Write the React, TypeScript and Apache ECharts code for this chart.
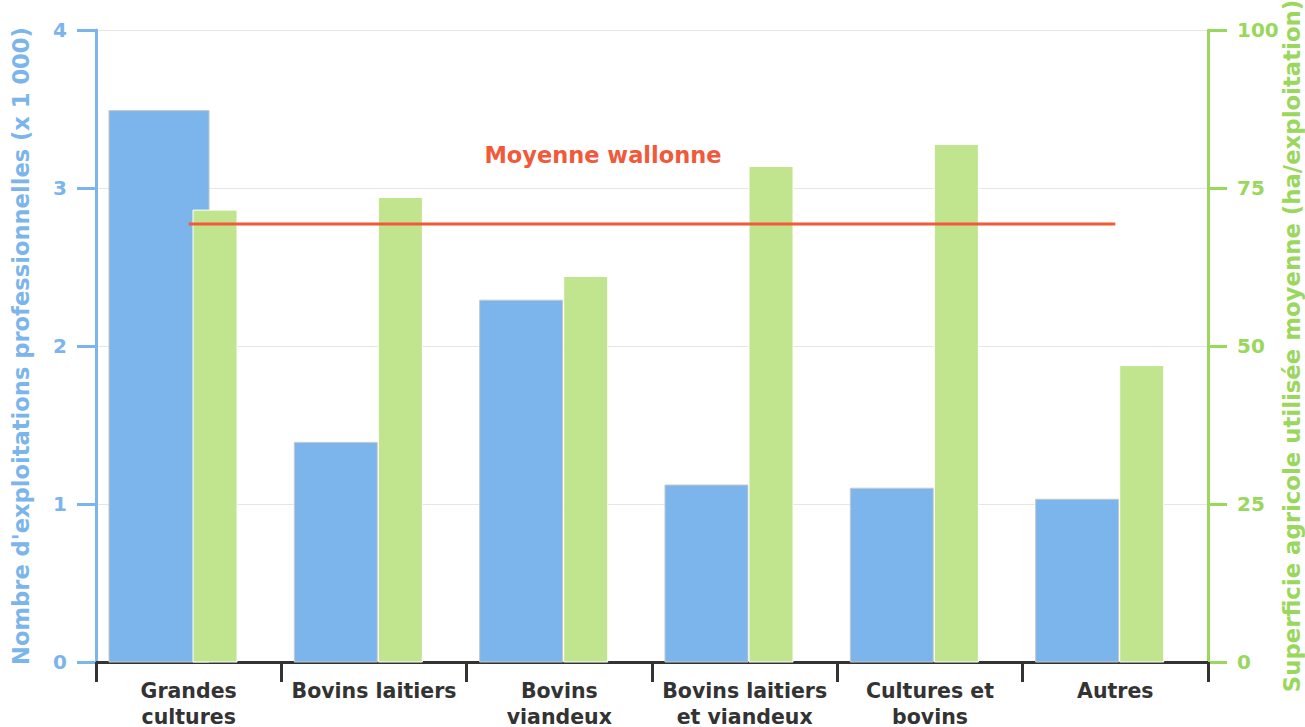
import React, { useEffect, useRef } from "react";
import * as echarts from "echarts";

const categories = [
  "Grandes\ncultures",
  "Bovins laitiers",
  "Bovins\nviandeux",
  "Bovins laitiers\net viandeux",
  "Cultures et\nbovins",
  "Autres",
];
// Nombre d'exploitations professionnelles (x 1 000)
const exploitations = [3.49, 1.39, 2.29, 1.12, 1.1, 1.03];
// Superficie agricole utilisée moyenne (ha/exploitation)
const superficie = [71.5, 73.5, 61.0, 78.4, 81.9, 46.9];
// Moyenne wallonne (ha/exploitation)
const moyenneWallonne = 69.3;
const moyenneLabel = "Moyenne wallonne";

const leftName = "Nombre d'exploitations professionnelles (x 1 000)";
const rightName = "Superficie agricole utilisée moyenne (ha/exploitation)";

const BLUE = "#7cb5ec";
const GREEN_BAR = "#c1e58e";
const GREEN_AXIS = "#9ad75d";
const RED = "#f2593a";
const FONT = "DejaVu Sans";

export default function App() {
  const ref = useRef<HTMLDivElement>(null);

  useEffect(() => {
    if (!ref.current) return;
    const chart = echarts.init(ref.current, undefined, { renderer: "svg" });

    const blueRender = (params: any, api: any) => {
      const i = api.value(0);
      const v = api.value(1);
      const band = api.size([1, 0])[0];
      const top = api.coord([i, v]);
      const base = api.coord([i, 0]);
      const left = top[0] - band / 2 + band * 0.07;
      const w = band * (i === 0 ? 0.54 : 0.448);
      return {
        type: "rect",
        shape: { x: left, y: top[1], width: w, height: base[1] - top[1] },
        style: { fill: BLUE, stroke: "#c8c8c8", lineWidth: 1 },
      };
    };

    const greenRender = (params: any, api: any) => {
      const i = api.value(0);
      const v = api.value(1);
      const band = api.size([1, 0])[0];
      const top = api.coord([i, v]);
      const base = api.coord([i, 0]);
      const left = top[0] - band / 2 + band * 0.5235;
      const w = band * 0.2375;
      return {
        type: "rect",
        shape: { x: left, y: top[1], width: w, height: base[1] - top[1] },
        style: { fill: GREEN_BAR, stroke: "#ffffff", lineWidth: 1 },
      };
    };

    const option: any = {
      animation: false,
      backgroundColor: "#ffffff",
      textStyle: { fontFamily: FONT },
      grid: {
        left: 96,
        right: 97,
        top: 30,
        bottom: 65,
        containLabel: false,
        outerBoundsMode: "none",
      },
      xAxis: {
        type: "category",
        data: categories,
        axisLine: { show: true, lineStyle: { color: "#333333", width: 3 } },
        axisTick: { show: true, length: 20, lineStyle: { color: "#333333", width: 3 } },
        axisLabel: {
          interval: 0,
          color: "#333333",
          fontWeight: "bold",
          fontFamily: FONT,
          fontSize: 20.5,
          lineHeight: 26,
          margin: 16,
        },
        splitLine: { show: false },
      },
      yAxis: [
        {
          type: "value",
          position: "left",
          min: 0,
          max: 4,
          interval: 1,
          name: leftName,
          nameLocation: "middle",
          nameGap: 64,
          nameTextStyle: { color: BLUE, fontWeight: "bold", fontFamily: FONT, fontSize: 22.6 },
          axisLine: { show: true, lineStyle: { color: BLUE, width: 3 } },
          axisTick: { show: true, length: 19, lineStyle: { color: BLUE, width: 3 } },
          axisLabel: { color: BLUE, fontWeight: "bold", fontFamily: FONT, fontSize: 20, margin: 29 },
          splitLine: { show: true, lineStyle: { color: "#e6e6e6", width: 1 } },
        },
        {
          type: "value",
          position: "right",
          min: 0,
          max: 100,
          interval: 25,
          name: rightName,
          nameLocation: "middle",
          nameGap: 72,
          nameMoveOverlap: false,
          nameTextStyle: { color: GREEN_AXIS, fontWeight: "bold", fontFamily: FONT, fontSize: 22.8 },
          axisLine: { show: true, lineStyle: { color: GREEN_AXIS, width: 3 } },
          axisTick: { show: true, length: 19, lineStyle: { color: GREEN_AXIS, width: 3 } },
          axisLabel: { color: GREEN_AXIS, fontWeight: "bold", fontFamily: FONT, fontSize: 20, margin: 29 },
          splitLine: { show: false },
        },
      ],
      series: [
        {
          name: "Exploitations",
          type: "custom",
          xAxisIndex: 0,
          yAxisIndex: 0,
          renderItem: blueRender,
          encode: { x: 0, y: 1 },
          data: exploitations.map((v, i) => [i, v]),
          z: 2,
        },
        {
          name: "Superficie",
          type: "custom",
          xAxisIndex: 0,
          yAxisIndex: 1,
          renderItem: greenRender,
          encode: { x: 0, y: 1 },
          data: superficie.map((v, i) => [i, v]),
          z: 3,
        },
        {
          name: moyenneLabel,
          type: "line",
          yAxisIndex: 1,
          data: categories.map(() => moyenneWallonne),
          symbol: "none",
          lineStyle: { color: RED, width: 3 },
          z: 4,
        },
      ],
      graphic: [
        {
          type: "text",
          x: 603,
          y: 155,
          style: {
            text: moyenneLabel,
            fill: RED,
            font: `bold 22.5px "${FONT}"`,
            textAlign: "center",
            textVerticalAlign: "middle",
          },
          z: 10,
        },
      ],
    };

    chart.setOption(option);
    return () => chart.dispose();
  }, []);

  return (
    <div
      ref={ref}
      style={{ position: "absolute", left: 0, top: 0, width: 1305, height: 727, background: "#fff" }}
    />
  );
}
